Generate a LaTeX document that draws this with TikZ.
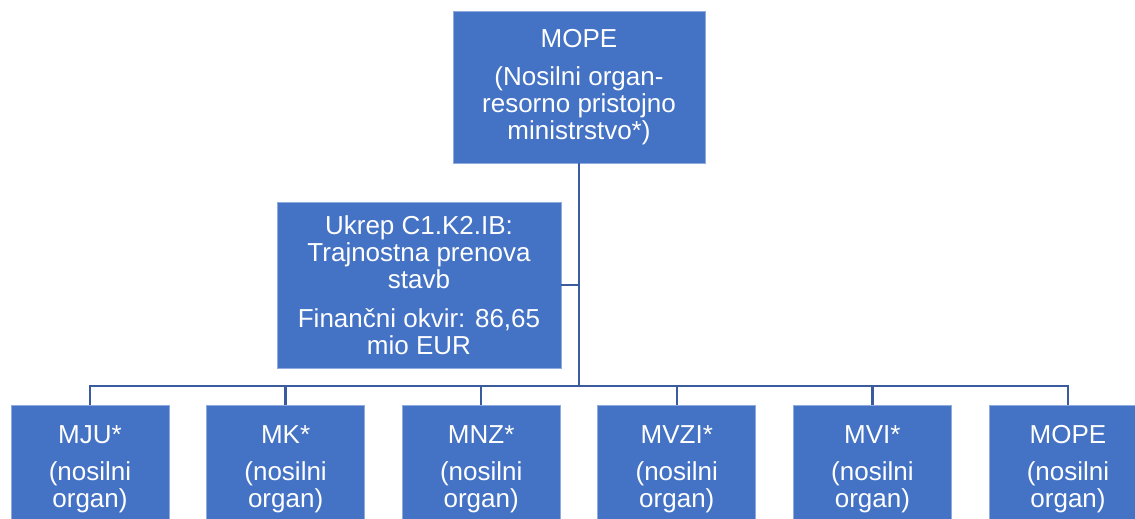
\documentclass[tikz,border=0pt]{standalone}
\usepackage{fontspec}
\setmainfont{Liberation Sans}
\definecolor{boxfill}{HTML}{4472C4}
\definecolor{boxline}{HTML}{8FAADC}
\definecolor{conn}{HTML}{3A5C9E}
\begin{document}
\begin{tikzpicture}[x=1pt,y=-1pt,
  orgbox/.style={draw=boxline, line width=0.8pt, fill=boxfill, text=white, align=center,
    inner sep=0pt, font=\fontsize{26}{27}\selectfont},
  link/.style={draw=conn, line width=2.5pt}]
\clip (0,0) rectangle (1135,519);
\useasboundingbox (0,0) rectangle (1135,519);
\node[orgbox, minimum width=252pt, minimum height=152pt] (top) at (579,87)
  {MOPE\\[11pt](Nosilni organ-\\resorno pristojno\\ministrstvo*)};
\node[orgbox, minimum width=284pt, minimum height=166pt] (asst) at (419,285)
  {Ukrep C1.K2.IB:\\Trajnostna prenova\\stavb\\[12pt]Finančni okvir: 86,65\\mio EUR};
\coordinate (bar) at (579,386);
\coordinate (aj) at (579,285);
\foreach \n/\x/\t in {c1/90/MJU*, c2/285.6/MK*, c3/481.2/MNZ*, c4/676.8/MVZI*, c5/872.4/MVI*, c6/1068/MOPE}{
  \node[orgbox, minimum width=158pt, minimum height=128pt] (\n) at (\x,469)
    {\t\\[10pt](nosilni\\organ)};
}
\draw[link] (top.south) -- (bar);
\draw[link] (asst.east) -- (aj);
\foreach \n in {c1,c2,c3,c4,c5,c6}{
  \draw[link] (bar) -| (\n.north);
}
\end{tikzpicture}
\end{document}
